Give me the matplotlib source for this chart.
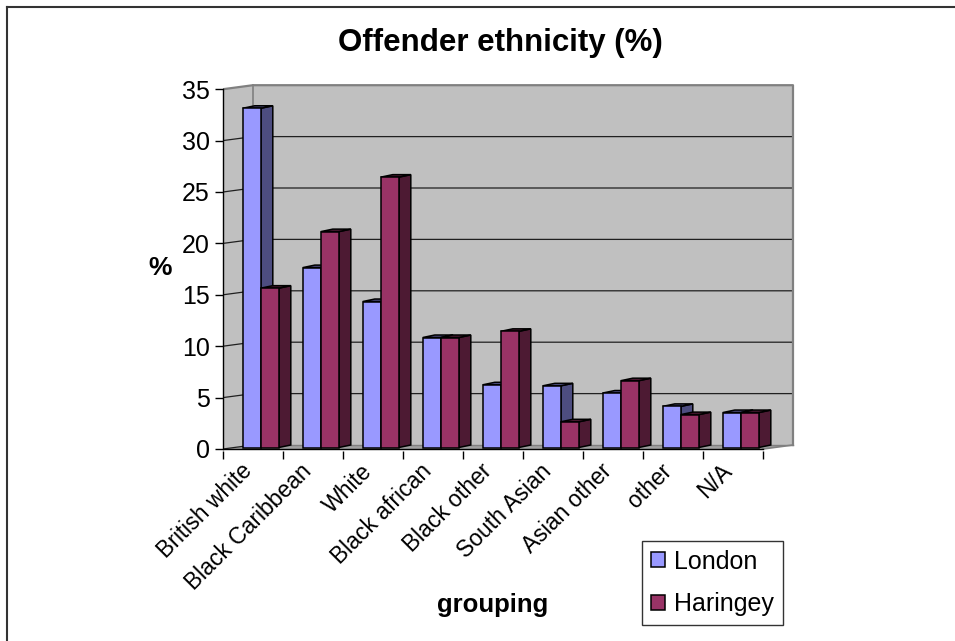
import numpy as np
import matplotlib
matplotlib.use("Agg")
import matplotlib.pyplot as plt
from matplotlib.patches import Polygon, Patch
from matplotlib.lines import Line2D

plt.rcParams['font.family'] = ['Liberation Sans', 'DejaVu Sans']

# data
groups = ['British white', 'Black Caribbean', 'White', 'Black african', 'Black other',
          'South Asian', 'Asian other', 'other', 'N/A']
london = [33.0, 17.5, 14.2, 10.7, 6.1, 6.0, 5.3, 4.0, 3.4]
haringey = [15.5, 21.0, 26.3, 10.7, 11.3, 2.5, 6.5, 3.2, 3.4]
series_names = ['London', 'Haringey']
yticks = [0, 5, 10, 15, 20, 25, 30, 35]

W, H = 955, 641
fig = plt.figure(figsize=(W / 100, H / 100), dpi=100)

# pixel layout of the plot (front axis at x=223px, value 0 at y=449px)
px_x, px_y = 60.0, 10.28
x0, y0 = 223, 449
xlim = (0, 9.6)
ylim = (-0.2, 35.6)
left = x0 / W
bottom = (H - (y0 - ylim[0] * px_y)) / H
top = (H - (y0 - ylim[1] * px_y)) / H
ax = fig.add_axes([left, bottom, (xlim[1] - xlim[0]) * px_x / W, top - bottom])
ax.set_xlim(*xlim)
ax.set_ylim(*ylim)
ax.set_facecolor('none')

n = len(groups)
ymax = yticks[-1]
wdx, wdy = 0.5, 4 / px_y          # depth of walls
bdx, bdy = 0.2, 2.5 / px_y        # depth of each bar
base = 1.5 / px_y                 # bars sit a little behind the front edge

wall = '#c0c0c0'
edge = '#808080'

# side wall, back wall, floor
ax.add_patch(Polygon([(0, 0), (wdx, wdy), (wdx, ymax + wdy), (0, ymax)],
                     closed=True, fc=wall, ec='none', zorder=0))
ax.add_patch(Polygon([(wdx, wdy), (n + wdx, wdy), (n + wdx, ymax + wdy), (wdx, ymax + wdy)],
                     closed=True, fc=wall, ec='none', zorder=0))
ax.add_patch(Polygon([(0, 0), (n, 0), (n + wdx, wdy), (wdx, wdy)],
                     closed=True, fc='#a0a0a0', ec='none', zorder=0.5))

# gridlines on side and back wall
for v in yticks[1:-1]:
    ax.plot([0, wdx, n + wdx], [v, v + wdy, v + wdy], color='#202020', lw=0.9, zorder=1)
ax.plot([0, wdx], [0, wdy], color='#202020', lw=0.9, zorder=1)
# wall edges
ax.plot([0, wdx, n + wdx, n + wdx], [ymax, ymax + wdy, ymax + wdy, wdy], color=edge, lw=1.6, zorder=1)
ax.plot([wdx, wdx], [wdy, ymax + wdy], color=edge, lw=1.2, zorder=1)
ax.plot([wdx, n + wdx], [wdy, wdy], color=edge, lw=1.0, zorder=1)
ax.plot([n, n + wdx], [0, wdy], color=edge, lw=1.2, zorder=1)
ax.plot([0, n], [0, 0], color='black', lw=1.0, zorder=1)

# bars
bw = 0.3
offsets = [0.33, 0.63]
fronts = ['#9999ff', '#993366']
sides = ['#4d4d80', '#4d1a33']
for k, vals in enumerate([london, haringey]):
    xs = np.arange(n) + offsets[k]
    z = 2 + 2 * k
    ax.bar(xs, vals, width=bw, bottom=base, align='edge', color=fronts[k],
           edgecolor='black', linewidth=1.1, zorder=z + 1)
    for x, v in zip(xs, vals):
        xr = x + bw
        t = base + v
        ax.add_patch(Polygon([(xr, base), (xr + bdx, base + bdy), (xr + bdx, t + bdy), (xr, t)],
                             closed=True, fc=sides[k], ec='black', lw=1.1, zorder=z))
        ax.add_patch(Polygon([(x, t), (x + bdx, t + bdy), (xr + bdx, t + bdy), (xr, t)],
                             closed=True, fc=sides[k], ec='black', lw=1.1, zorder=z))

# axes
for s in ['top', 'right', 'bottom']:
    ax.spines[s].set_visible(False)
ax.spines['left'].set_bounds(0, ymax)
ax.spines['left'].set_linewidth(1.0)
ax.set_yticks(yticks)
ax.tick_params(axis='y', direction='out', length=6, width=1.0, pad=3.5, labelsize=18)

ax.set_xticks(np.arange(n + 1))
ax.set_xticklabels([])
ax.tick_params(axis='x', which='major', direction='out', length=6, width=1.0)
ax.set_xticks(np.arange(n) + 0.42, groups, minor=True)
ax.tick_params(axis='x', which='minor', length=0, pad=12, labelsize=16.5)
plt.setp(ax.get_xticklabels(minor=True), rotation=45, ha='right', va='center',
         rotation_mode='anchor')

# texts
fig.text(500 / W, 1 - 51 / H, 'Offender ethnicity (%)', ha='center', va='baseline',
         fontsize=22.5, fontweight='bold')
fig.text(160 / W, 1 - 268 / H, '%', ha='center', va='center', fontsize=19, fontweight='bold')
fig.text(493 / W, 1 - 612 / H, 'grouping', ha='center', va='baseline', fontsize=18.5,
         fontweight='bold')

handles = [Patch(facecolor=fronts[k], edgecolor='black', linewidth=1.1) for k in range(2)]
leg = fig.legend(handles, series_names, loc='upper left',
                 bbox_to_anchor=(642 / W, 1 - 541 / H), fontsize=18,
                 fancybox=False, frameon=True, handlelength=0.55, handleheight=0.55,
                 handletextpad=0.4, labelspacing=0.75, borderpad=0.35, borderaxespad=0)
leg.get_frame().set_edgecolor('black')
leg.get_frame().set_linewidth(1.0)

# chart border (top and left only visible)
fig.add_artist(Line2D([7 / W, 1], [1 - 7 / H, 1 - 7 / H], color='#333333', lw=1.5))
fig.add_artist(Line2D([7 / W, 7 / W], [0, 1 - 7 / H], color='#333333', lw=1.5))

fig.savefig('out.png', dpi=100)
